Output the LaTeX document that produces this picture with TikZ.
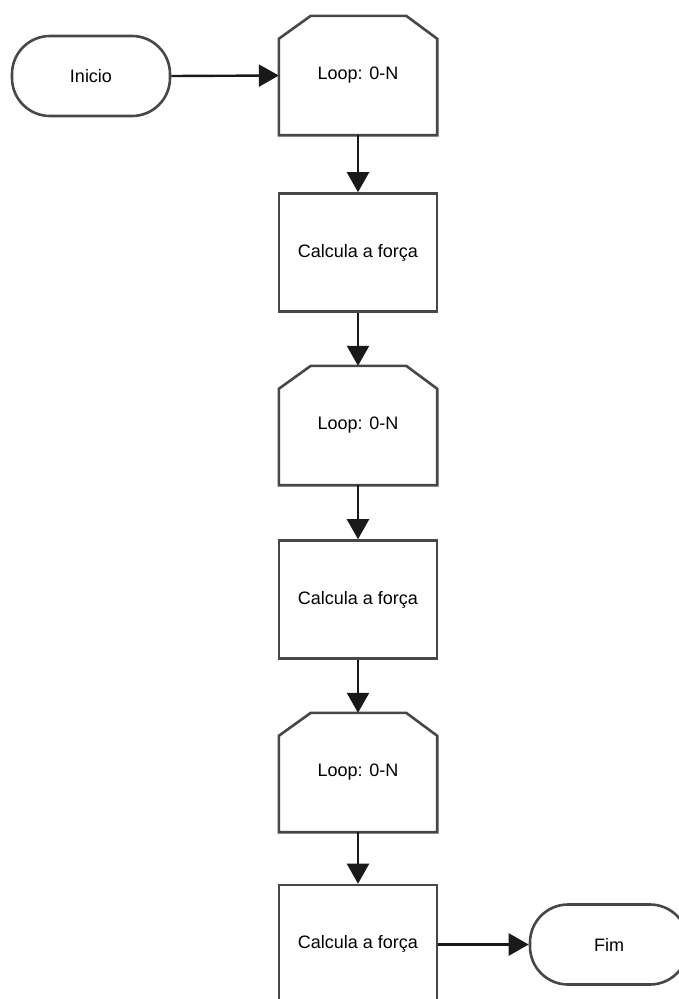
\documentclass[tikz,border=0pt]{standalone}
\usepackage{fontspec}
\setmainfont{Liberation Sans}
\usetikzlibrary{arrows.meta,calc}
\begin{document}
\begin{tikzpicture}[x=1pt,y=-1pt,
  every node/.style={font=\fontsize{18}{21}\selectfont, text=black},
  term/.style={draw=black!72, line width=2.6pt, rounded corners=38pt, minimum width=158pt, minimum height=80pt, inner sep=0pt},
  procbox/.style={draw=black!72, line width=2.6pt, minimum width=158pt, minimum height=118pt, inner sep=0pt},
  loopbox/.style={draw=none, minimum width=158pt, minimum height=119pt, inner sep=0pt},
  loopedge/.style={draw=black!72, line width=2.6pt, line join=miter},
  conn/.style={draw=black!90, line width=2.4pt, -{Triangle[length=20pt,width=22pt]}}
]
\useasboundingbox (0,0) rectangle (679,999);
\clip (0,0) rectangle (679,999);
\fill[white] (0,0) rectangle (679,999);

\node[term] (ini) at (91,76) {Inicio};
\node[loopbox] (l1) at (358,75.5) {Loop: 0-N};
\node[procbox] (c1) at (358,252.5) {Calcula a força};
\node[loopbox] (l2) at (358,425.5) {Loop: 0-N};
\node[procbox] (c2) at (358,599.5) {Calcula a força};
\node[loopbox] (l3) at (358,772.5) {Loop: 0-N};
\node[procbox] (c3) at (358,944) {Calcula a força};
\node[term] (fim) at (609,944.5) {Fim};

\foreach \n in {l1,l2,l3}{
  \draw[loopedge] (\n.south west) -- ([yshift=-23pt]\n.north west) -- ([xshift=32pt]\n.north west)
    -- ([xshift=-31pt]\n.north east) -- ([yshift=-23pt]\n.north east) -- (\n.south east) -- cycle;
}

\draw[conn] (ini.east) -- (l1.west);
\draw[conn] (l1.south) -- (c1.north);
\draw[conn] (c1.south) -- (l2.north);
\draw[conn] (l2.south) -- (c2.north);
\draw[conn] (c2.south) -- (l3.north);
\draw[conn] (l3.south) -- (c3.north);
\draw[conn] (c3.east |- fim.west) -- (fim.west);
\end{tikzpicture}
\end{document}
